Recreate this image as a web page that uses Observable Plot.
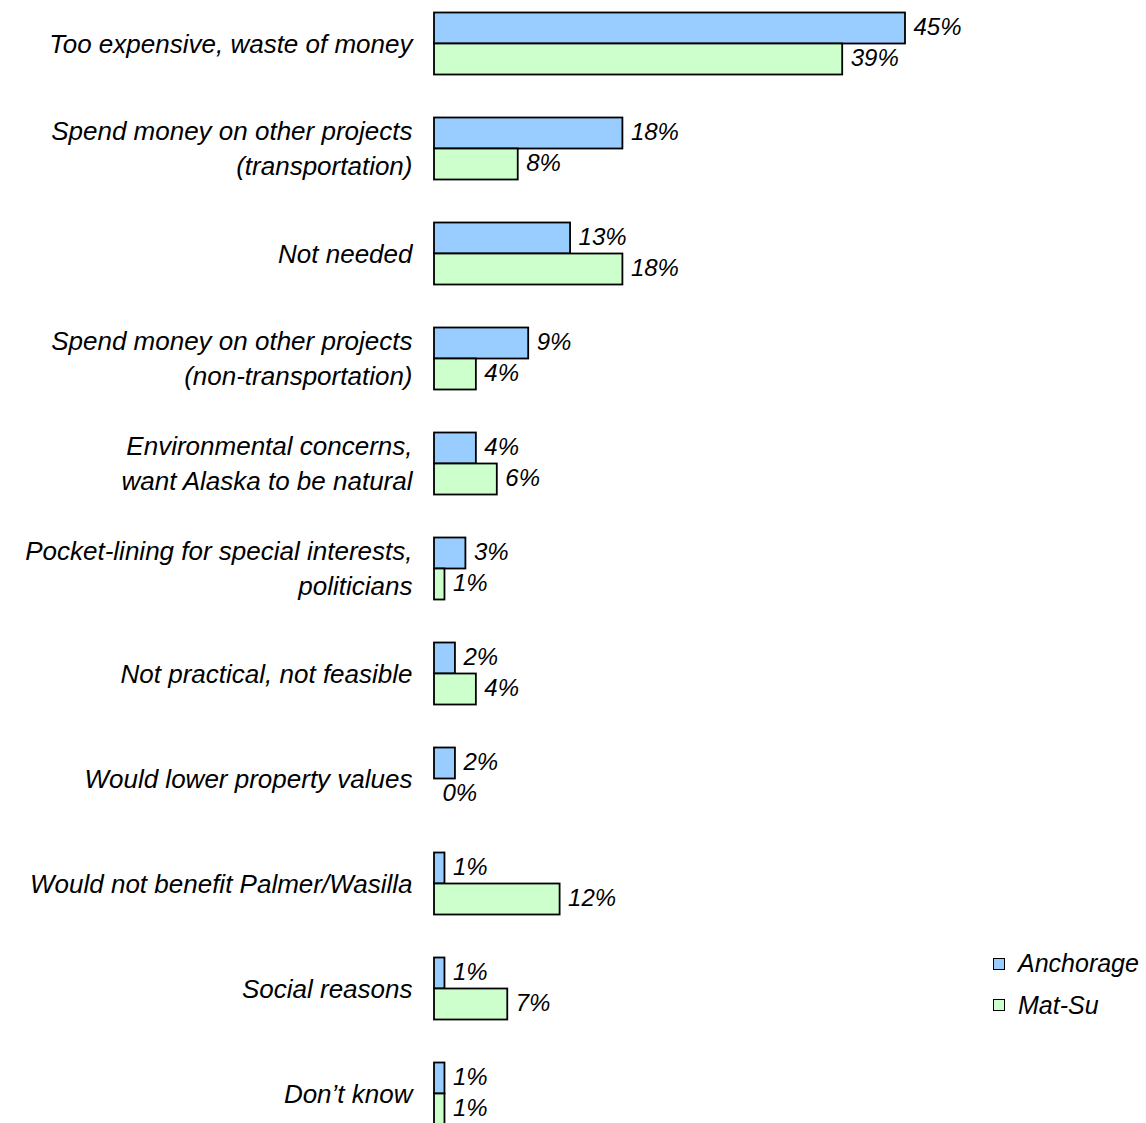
<!DOCTYPE html>
<html>
<head>
<meta charset="utf-8">
<script src="https://cdn.jsdelivr.net/npm/d3@7"></script>
<script src="https://cdn.jsdelivr.net/npm/@observablehq/plot@0.6"></script>
<style>
  html, body { margin: 0; padding: 0; background: #fff; overflow: hidden; }
  #wrap { position: relative; width: 1146px; height: 1123px; }
  #legend { position: absolute; left: 993px; top: 943px; font-family: "Liberation Sans", Arial, sans-serif; font-style: italic; font-size: 25px; color: #000; }
  .item { display: flex; align-items: center; height: 41.5px; }
  .sw { width: 10px; height: 10px; border: 1px solid #000; margin-right: 13px; }
</style>
</head>
<body>
<div id="wrap"><div id="chart"></div><div id="legend"></div></div>
<script>
const categories = [
  "Too expensive, waste of money",
  "Spend money on other projects\n(transportation)",
  "Not needed",
  "Spend money on other projects\n(non-transportation)",
  "Environmental concerns,\nwant Alaska to be natural",
  "Pocket-lining for special interests,\npoliticians",
  "Not practical, not feasible",
  "Would lower property values",
  "Would not benefit Palmer/Wasilla",
  "Social reasons",
  "Don\u2019t know"
];
const series = ["Anchorage", "Mat-Su"];
const anchorage = [45, 18, 13, 9, 4, 3, 2, 2, 1, 1, 1];
const matSu = [39, 8, 18, 4, 6, 1, 4, 0, 12, 7, 1];
const colors = ["#99CCFF", "#CCFFCC"];

const data = [];
categories.forEach((c, i) => {
  data.push({category: c, series: series[0], value: anchorage[i]});
  data.push({category: c, series: series[1], value: matSu[i]});
});

const chart = Plot.plot({
  width: 1146,
  height: 1123,
  marginLeft: 434,
  marginRight: 241,
  marginTop: 9.5,
  marginBottom: -2.5,
  style: {fontFamily: "'Liberation Sans', Arial, sans-serif", fontSize: "25px", fontStyle: "italic", color: "#000", background: "#fff"},
  x: {domain: [0, 45], axis: null},
  y: {domain: series, axis: null, paddingInner: 0, paddingOuter: 0},
  fy: {domain: categories, paddingInner: 0.4118, paddingOuter: 0, label: null},
  color: {domain: series, range: colors},
  marks: [
    Plot.axisFy({anchor: "left", tickSize: 0, tickPadding: 22, label: null, lineHeight: 1.35, fontSize: 26, fill: "#000", dy: -2}),
    Plot.barX(data, {x: "value", y: "series", fy: "category", fill: "series", stroke: "#000", strokeWidth: 1.8}),
    Plot.text(data, {x: "value", y: "series", fy: "category", text: d => d.value + "%", dx: 8, dy: -1, textAnchor: "start", fontSize: 24, fill: "#000"})
  ]
});
document.getElementById("chart").appendChild(chart);

const legend = document.getElementById("legend");
series.forEach((s, i) => {
  const item = document.createElement("div");
  item.className = "item";
  const sw = document.createElement("div");
  sw.className = "sw";
  sw.style.background = colors[i];
  const t = document.createElement("span");
  t.textContent = s;
  item.appendChild(sw);
  item.appendChild(t);
  legend.appendChild(item);
});
</script>
</body>
</html>
